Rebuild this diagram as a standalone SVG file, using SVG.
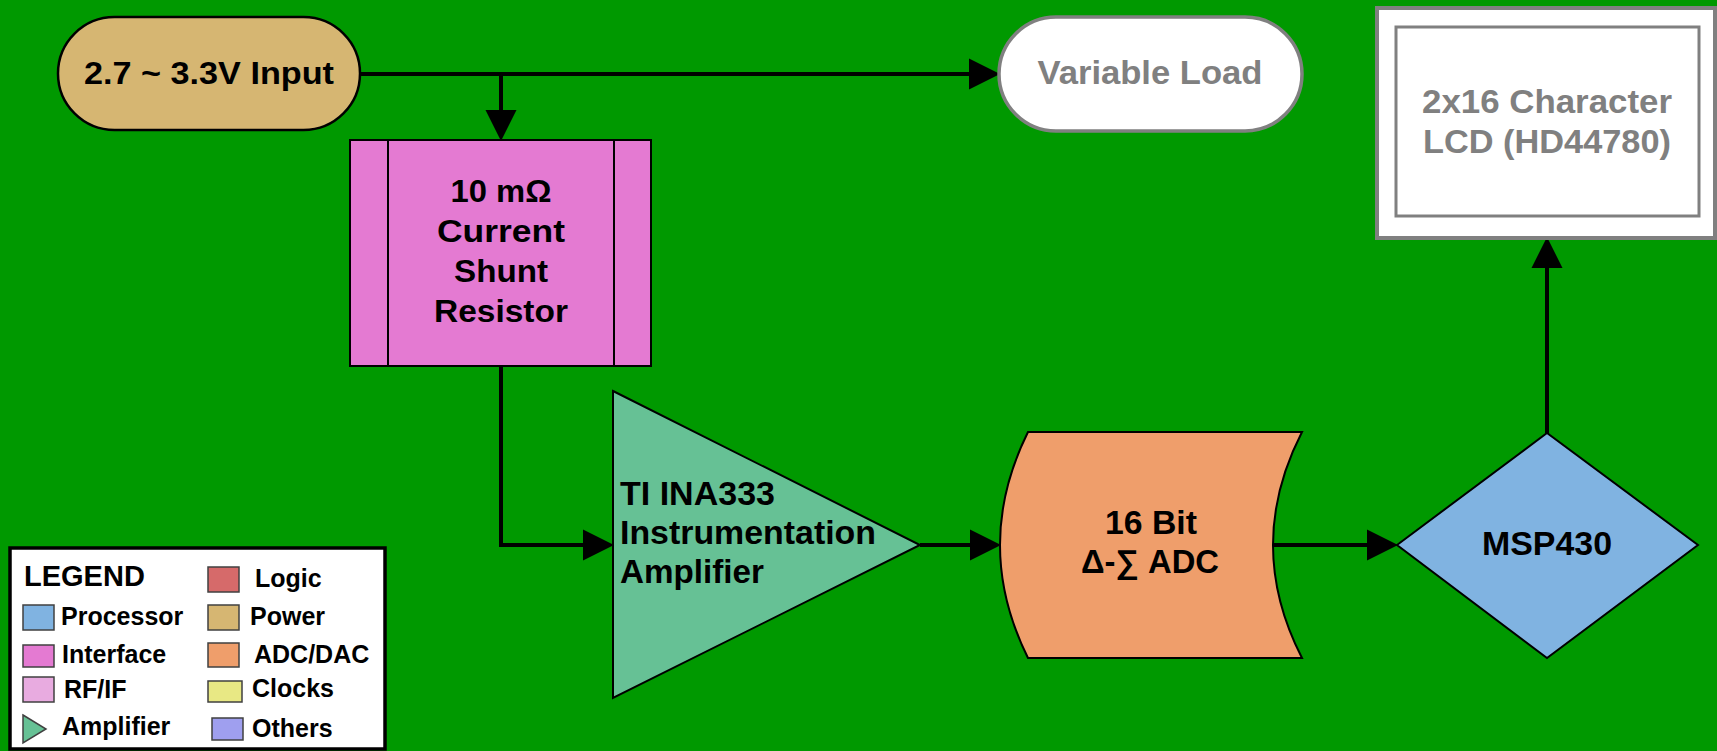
<svg xmlns="http://www.w3.org/2000/svg" width="1717" height="751" viewBox="0 0 1717 751">
<defs>
<style>
.t{font-family:"Liberation Sans",Arial,sans-serif;font-weight:bold;font-size:33px;fill:#000}
.g{fill:#808080}
.c{text-anchor:middle}
.lg{font-family:"Liberation Sans",Arial,sans-serif;font-weight:bold;font-size:25px;fill:#000}
.wire{fill:none;stroke:#000;stroke-width:4;marker-end:url(#ah)}
.sw{stroke:#404040;stroke-width:1.5}
</style>
<marker id="ah" markerUnits="userSpaceOnUse" markerWidth="31" markerHeight="31" viewBox="0 0 30 30" refX="0" refY="15" orient="auto" overflow="visible">
<path d="M0,0 L30,15 L0,30 Z" fill="#000"/>
</marker>
</defs>
<rect width="1717" height="751" fill="#009900"/>

<g id="connectors">
<path class="wire" d="M360,74 H969"/>
<path class="wire" d="M501,74 V110"/>
<path class="wire" d="M501,366 V545 H583"/>
<path class="wire" d="M920,545 H970"/>
<path class="wire" d="M1273,545 H1367"/>
<path class="wire" d="M1547,433 V268"/>
</g>

<g id="input">
<rect x="58" y="17" width="302" height="113" rx="56.5" fill="#D6B672" stroke="#000" stroke-width="2.5"/>
<text class="t c" x="209" y="84" style="font-size:32px" textLength="250" lengthAdjust="spacingAndGlyphs">2.7 ~ 3.3V Input</text>
</g>

<g id="load">
<rect x="999" y="17" width="303" height="114" rx="57" fill="#fff" stroke="#808080" stroke-width="3.5"/>
<text class="t g c" x="1150" y="84" textLength="225" lengthAdjust="spacingAndGlyphs">Variable Load</text>
</g>

<g id="lcd">
<rect x="1377" y="8" width="338" height="230" fill="#fff" stroke="#808080" stroke-width="4"/>
<rect x="1396" y="27" width="303" height="189" fill="#fff" stroke="#808080" stroke-width="3"/>
<text class="t g c" x="1547" y="113" textLength="250" lengthAdjust="spacingAndGlyphs">2x16 Character</text>
<text class="t g c" x="1547" y="153" textLength="248" lengthAdjust="spacingAndGlyphs">LCD (HD44780)</text>
</g>

<g id="shunt">
<rect x="350" y="140" width="301" height="226" fill="#E47AD2" stroke="#000" stroke-width="2"/>
<line x1="388" y1="140" x2="388" y2="366" stroke="#000" stroke-width="2"/>
<line x1="614" y1="140" x2="614" y2="366" stroke="#000" stroke-width="2"/>
<text class="t c" x="501" y="202" style="font-size:32px" textLength="101" lengthAdjust="spacingAndGlyphs">10 mΩ</text>
<text class="t c" x="501" y="242" style="font-size:32px" textLength="128" lengthAdjust="spacingAndGlyphs">Current</text>
<text class="t c" x="501" y="282" style="font-size:32px" textLength="94" lengthAdjust="spacingAndGlyphs">Shunt</text>
<text class="t c" x="501" y="322" style="font-size:32px" textLength="134" lengthAdjust="spacingAndGlyphs">Resistor</text>
</g>

<g id="amp">
<polygon points="613,391 920,545 613,698" fill="#66C195" stroke="#000" stroke-width="2"/>
<text class="t" x="620" y="505" textLength="155" lengthAdjust="spacingAndGlyphs">TI INA333</text>
<text class="t" x="620" y="544" textLength="256" lengthAdjust="spacingAndGlyphs">Instrumentation</text>
<text class="t" x="620" y="583" textLength="144" lengthAdjust="spacingAndGlyphs">Amplifier</text>
</g>

<g id="adc">
<path d="M1028,432 L1302,432 Q1244,545 1302,658 L1028,658 Q972,545 1028,432 Z" fill="#EF9E6B" stroke="#000" stroke-width="2"/>
<text class="t c" x="1151" y="534" textLength="92" lengthAdjust="spacingAndGlyphs">16 Bit</text>
<text class="t c" x="1150" y="573" textLength="138" lengthAdjust="spacingAndGlyphs">Δ-∑ ADC</text>
</g>

<g id="msp430">
<polygon points="1397,545 1547,433 1698,545 1547,658" fill="#80B3E1" stroke="#000" stroke-width="2"/>
<text class="t c" x="1547" y="555" textLength="130" lengthAdjust="spacingAndGlyphs">MSP430</text>
</g>

<g id="legend">
<rect x="10" y="548" width="375" height="201" fill="#fff" stroke="#000" stroke-width="3.5"/>
<text class="lg" x="24" y="586" style="font-size:29px">LEGEND</text>
<rect class="sw" x="23" y="605" width="31" height="25" fill="#80B3E1"/>
<text class="lg" x="61" y="625">Processor</text>
<rect class="sw" x="23" y="645" width="31" height="22" fill="#E47AD2"/>
<text class="lg" x="62" y="663">Interface</text>
<rect class="sw" x="23" y="677" width="31" height="25" fill="#E8ABE0"/>
<text class="lg" x="64" y="698">RF/IF</text>
<polygon class="sw" points="23,715 46,729 23,743" fill="#66C195"/>
<text class="lg" x="62" y="735">Amplifier</text>
<rect class="sw" x="208" y="567" width="31" height="25" fill="#D66A6A"/>
<text class="lg" x="255" y="587">Logic</text>
<rect class="sw" x="208" y="605" width="31" height="25" fill="#D6B672"/>
<text class="lg" x="250" y="625">Power</text>
<rect class="sw" x="208" y="643" width="31" height="24" fill="#EF9E6B"/>
<text class="lg" x="254" y="663">ADC/DAC</text>
<rect class="sw" x="208" y="681" width="34" height="21" fill="#E8E884"/>
<text class="lg" x="252" y="697">Clocks</text>
<rect class="sw" x="212" y="718" width="31" height="22" fill="#9F9FEF"/>
<text class="lg" x="252" y="737">Others</text>
</g>
</svg>
